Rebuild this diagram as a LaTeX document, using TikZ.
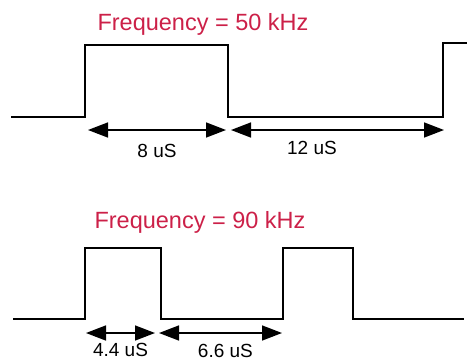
\documentclass[tikz,border=0pt]{standalone}
\usepackage{fontspec}
\setmainfont{Liberation Sans}
\usepackage{tikz}
\usetikzlibrary{arrows.meta,positioning}
\definecolor{PulseRed}{RGB}{204,32,72}

\begin{document}
\begin{tikzpicture}[x=1pt,y=-1pt,
		wave/.style={line width=1.6pt,line join=miter},
		span/.style={line width=1.5pt,{Triangle[length=20pt,width=15pt]}-{Triangle[length=20pt,width=15pt]}},
		freq/.style={text=PulseRed,font=\fontsize{23.5}{26}\selectfont},
		tlabel/.style={font=\fontsize{19}{21}\selectfont,inner sep=0pt}]
	\useasboundingbox (0,0) rectangle (469,360);
	% upper pulse train, 50 kHz
	\coordinate (A0) at (11,117);
	\coordinate (A1) at (85,117);
	\coordinate (A2) at (85,45);
	\coordinate (A3) at (228,45);
	\coordinate (A4) at (228,117);
	\coordinate (A5) at (443,117);
	\coordinate (A6) at (443,43);
	\coordinate (A7) at (467,43);
	\draw[wave] (A0) -- (A1) -- (A2) -- (A3) -- (A4) -- (A5) -- (A6) -- (A7);
	\coordinate (P1) at (88,130);
	\coordinate (P2) at (226,130);
	\coordinate (P3) at (231,130);
	\coordinate (P4) at (444,130);
	\draw[span] (P1) -- (P2) node[midway,below=13pt,tlabel] (t8) {8 uS};
	\draw[span] (P3) -- (P4) node[pos=0.38,below=10pt,tlabel] (t12) {12 uS};
	\node[freq] (f50) at (203,24) {Frequency = 50 kHz};

	% lower pulse train, 90 kHz
	\coordinate (B0) at (13,319);
	\coordinate (B1) at (85,319);
	\coordinate (B2) at (85,248);
	\coordinate (B3) at (161,248);
	\coordinate (B4) at (161,319);
	\coordinate (B5) at (283,319);
	\coordinate (B6) at (283,248);
	\coordinate (B7) at (353,248);
	\coordinate (B8) at (353,319);
	\coordinate (B9) at (464,319);
	\draw[wave] (B0) -- (B1) -- (B2) -- (B3) -- (B4) -- (B5) -- (B6) -- (B7) -- (B8) -- (B9);
	\coordinate (Q1) at (86,333);
	\coordinate (Q2) at (155,333);
	\coordinate (Q3) at (159,333);
	\coordinate (Q4) at (282,333);
	\draw[span] (Q1) -- (Q2) node[midway,below=9pt,tlabel] (t44) {4.4 uS};
	\draw[span] (Q3) -- (Q4) node[pos=0.54,below=10pt,tlabel] (t66) {6.6 uS};
	\node[freq] (f90) at (200,222) {Frequency = 90 kHz};
\end{tikzpicture}
\end{document}
